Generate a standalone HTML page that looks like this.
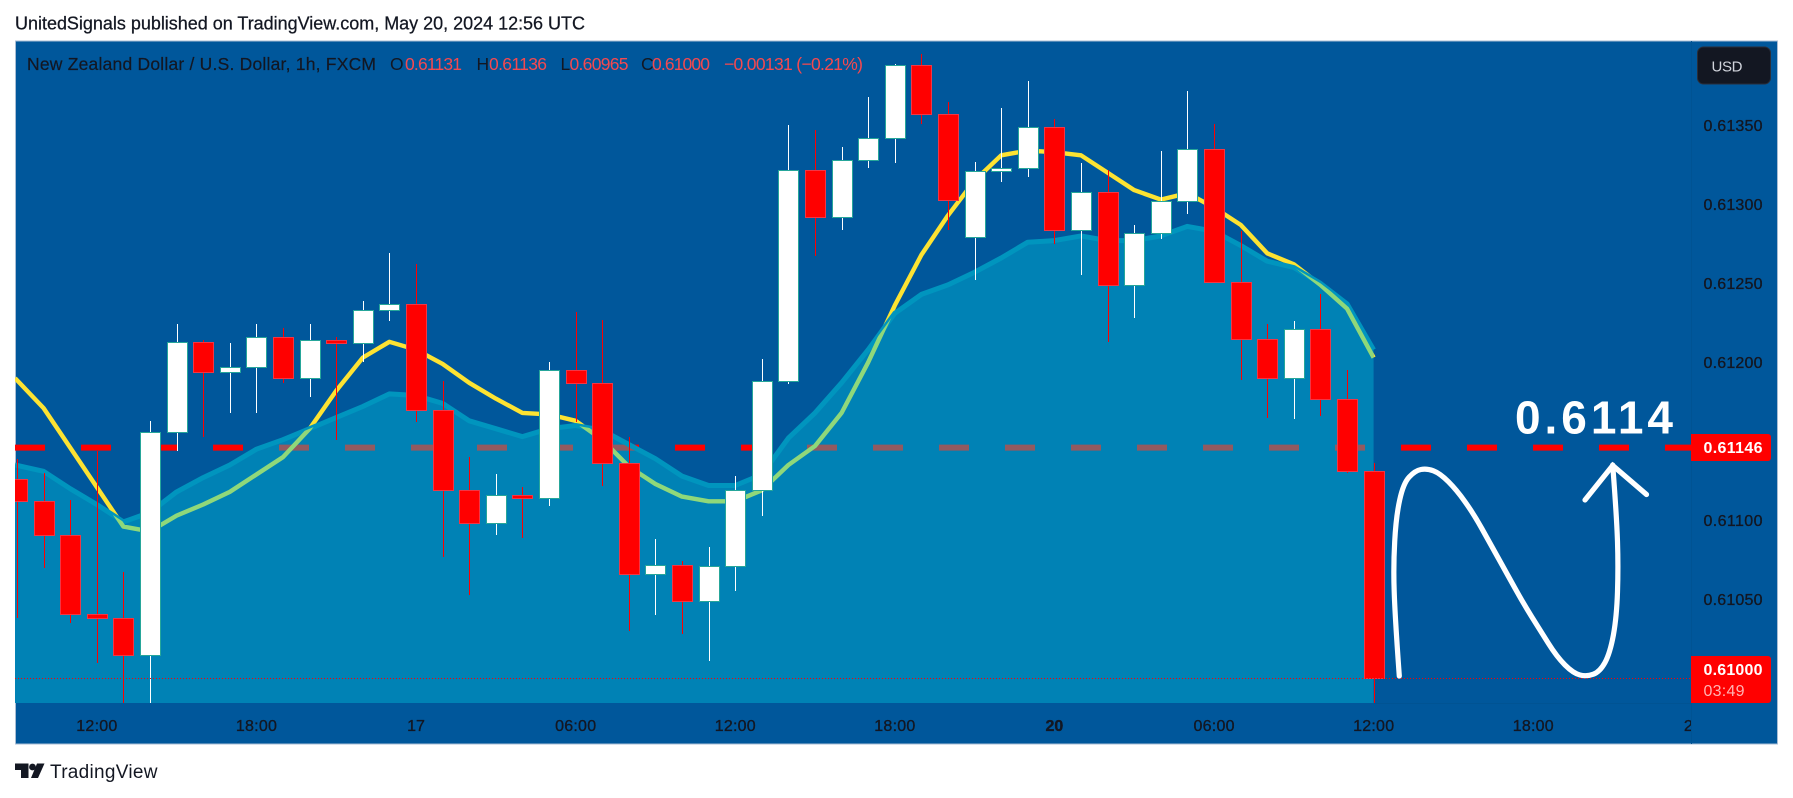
<!DOCTYPE html>
<html lang="en">
<head>
<meta charset="utf-8">
<title>NZD/USD 1h chart</title>
<style>
html,body{margin:0;padding:0;background:#fff;width:1793px;height:798px;overflow:hidden}
svg{display:block}
text{font-family:"Liberation Sans",sans-serif}
</style>
</head>
<body>
<svg id="chart" xmlns="http://www.w3.org/2000/svg" width="1793" height="798" viewBox="0 0 1793 798">
  <defs>
    <clipPath id="plot-clip"><rect x="15" y="41" width="1676" height="662"/></clipPath>
    <clipPath id="time-clip"><rect x="15" y="704" width="1676" height="40"/></clipPath>
    <clipPath id="area-clip"><path id="area-clip-path" d=""/></clipPath>
  </defs>

  <text x="15" y="29.5" font-size="18" fill="#131722" stroke="#131722" stroke-width="0.25" textLength="570">UnitedSignals published on TradingView.com, May 20, 2024 12:56 UTC</text>

  <rect x="15.5" y="41" width="1762" height="703" fill="#00579B" stroke="#a9bdd4" stroke-width="1"/>

  <g id="plot-layer" clip-path="url(#plot-clip)"></g>

  <line x1="1691.5" y1="41" x2="1691.5" y2="744" stroke="#005393" stroke-width="1"/>
  <line x1="1374" y1="703.5" x2="1691" y2="703.5" stroke="#005393" stroke-width="1"/>

  <g font-size="17.5">
    <text x="27" y="70" fill="#131722" stroke="#131722" stroke-width="0.2" textLength="349">New Zealand Dollar / U.S. Dollar, 1h, FXCM</text>
    <text x="390" y="70" fill="#131722">O</text>
    <text x="405" y="70" fill="#F5494F" textLength="57">0.61131</text>
    <text x="476.5" y="70" fill="#131722">H</text>
    <text x="489" y="70" fill="#F5494F" textLength="58">0.61136</text>
    <text x="560.5" y="70" fill="#131722">L</text>
    <text x="569.5" y="70" fill="#F5494F" textLength="59">0.60965</text>
    <text x="641" y="70" fill="#131722">C</text>
    <text x="652" y="70" fill="#F5494F" textLength="58">0.61000</text>
    <text x="724" y="70" fill="#F5494F" textLength="139">−0.00131 (−0.21%)</text>
  </g>

  <g>
    <rect x="1697.5" y="47" width="73" height="37" rx="6" fill="#131722" stroke="#2a2e39" stroke-width="1"/>
    <text x="1711.5" y="71.5" font-size="15" fill="#d1d4dc" textLength="31">USD</text>
  </g>

  <g id="price-axis"></g>
  <g id="time-axis" clip-path="url(#time-clip)"></g>

  <g>
    <path d="M1691 434H1768a3 3 0 0 1 3 3V458a3 3 0 0 1 -3 3H1691Z" fill="#FF0000"/>
    <text x="1703.5" y="453" font-size="16" font-weight="bold" fill="#fff" textLength="59">0.61146</text>
  </g>
  <g>
    <path d="M1691 656H1768a3 3 0 0 1 3 3V700a3 3 0 0 1 -3 3H1691Z" fill="#FF0000"/>
    <text x="1703.5" y="675" font-size="16" font-weight="bold" fill="#fff" textLength="59">0.61000</text>
    <text x="1703.5" y="696" font-size="16" fill="#ffb3b3" textLength="41">03:49</text>
  </g>

  <text x="1515" y="433.5" font-size="46" font-weight="bold" fill="#fff" textLength="158">0.6114</text>
  <path fill="none" stroke="#fff" stroke-width="5.2" stroke-linecap="round" stroke-linejoin="round"
    d="M1399.3 676 Q1395 616.7 1394.2 591.7 Q1393.3 566.7 1394.7 541.7 Q1396 516.7 1399.7 500 Q1403.3 483.3 1409.2 477 Q1415 470.7 1420.9 469.5 Q1426.7 468.3 1433.4 470.8 Q1440 473.3 1448.4 481.7 Q1456.7 490 1465 501.7 Q1473.3 513.3 1481.7 528.3 Q1490 543.3 1498.4 558.3 Q1506.7 573.3 1515 588.3 Q1523.3 603.3 1531.7 616.7 Q1540 630 1548.4 643.4 Q1556.7 656.7 1565 665 Q1573.3 673.3 1580 675 Q1586.7 676.7 1593.4 674.2 Q1600 671.7 1605 662.5 Q1610 653.3 1613.4 635 Q1616.7 616.7 1617.5 591.7 Q1618.3 566.7 1617.5 541.7 Q1616.7 516.7 1612.7 465"/>
  <path fill="none" stroke="#fff" stroke-width="5.2" stroke-linecap="round" stroke-linejoin="miter"
    d="M1585 500 L1612.7 465.5 L1646.5 494.5"/>

  <g>
    <path fill="#131722" d="M15 763.5H28.5V778H21V770H15Z"/>
    <circle cx="32.5" cy="767" r="3.4" fill="#131722"/>
    <path fill="#131722" d="M37 763.5H44.5L38 778H31Z"/>
    <text x="50" y="778" font-size="19" fill="#131722" textLength="107.5">TradingView</text>
  </g>
</svg>

<script>
const opens = [0.61126,0.61112,0.61091,0.61041,0.61038,0.61015,0.61156,0.61213,0.61194,0.61197,0.61216,0.61190,0.61214,0.61212,0.61233,0.61237,0.61170,0.61119,0.61098,0.61116,0.61114,0.61195,0.61187,0.61136,0.61066,0.61072,0.61049,0.61071,0.61119,0.61188,0.61322,0.61292,0.61328,0.61342,0.61388,0.61357,0.61279,0.61321,0.61323,0.61349,0.61284,0.61308,0.61249,0.61282,0.61302,0.61335,0.61251,0.61215,0.61190,0.61221,0.61177,0.61131];
const highs = [0.61139,0.61130,0.61113,0.61144,0.61067,0.61163,0.61224,0.61214,0.61212,0.61224,0.61222,0.61224,0.61216,0.61239,0.61269,0.61262,0.61188,0.61140,0.61129,0.61121,0.61200,0.61232,0.61227,0.61153,0.61088,0.61074,0.61083,0.61128,0.61202,0.61350,0.61347,0.61336,0.61368,0.61389,0.61395,0.61365,0.61327,0.61361,0.61378,0.61354,0.61326,0.61322,0.61287,0.61334,0.61372,0.61351,0.61283,0.61224,0.61226,0.61243,0.61195,0.61136];
const lows = [0.61038,0.61070,0.61035,0.61010,0.60980,0.60980,0.61144,0.61153,0.61168,0.61168,0.61187,0.61178,0.61151,0.61200,0.61226,0.61162,0.61077,0.61053,0.61091,0.61089,0.61109,0.61162,0.61122,0.61030,0.61040,0.61028,0.61011,0.61055,0.61103,0.61186,0.61267,0.61284,0.61323,0.61326,0.61351,0.61284,0.61252,0.61314,0.61317,0.61275,0.61255,0.61213,0.61228,0.61278,0.61294,0.61251,0.61189,0.61165,0.61164,0.61166,0.61130,0.60965];
const closes = [0.61112,0.61091,0.61041,0.61038,0.61015,0.61156,0.61213,0.61194,0.61197,0.61216,0.61190,0.61214,0.61212,0.61233,0.61237,0.61170,0.61119,0.61098,0.61116,0.61114,0.61195,0.61187,0.61136,0.61066,0.61072,0.61049,0.61071,0.61119,0.61188,0.61322,0.61292,0.61328,0.61342,0.61388,0.61357,0.61303,0.61321,0.61323,0.61349,0.61284,0.61308,0.61249,0.61282,0.61302,0.61335,0.61251,0.61215,0.61190,0.61221,0.61177,0.61131,0.61000];
const fastAverage = [0.61190,0.61171,0.61146,0.61121,0.61096,0.61093,0.61103,0.61110,0.61118,0.61129,0.61140,0.61158,0.61182,0.61203,0.61213,0.61208,0.61199,0.61187,0.61177,0.61168,0.61167,0.61163,0.61151,0.61134,0.61123,0.61115,0.61112,0.61112,0.61119,0.61135,0.61147,0.61168,0.61200,0.61236,0.61268,0.61293,0.61315,0.61331,0.61334,0.61333,0.61331,0.61320,0.61309,0.61303,0.61307,0.61298,0.61287,0.61269,0.61262,0.61249,0.61234,0.61203];
const slowAverage = [0.61135,0.61131,0.61120,0.61110,0.61099,0.61105,0.61118,0.61127,0.61135,0.61145,0.61151,0.61158,0.61165,0.61172,0.61180,0.61179,0.61174,0.61163,0.61158,0.61153,0.61158,0.61160,0.61157,0.61148,0.61139,0.61128,0.61122,0.61122,0.61129,0.61152,0.61168,0.61187,0.61208,0.61231,0.61243,0.61249,0.61257,0.61266,0.61276,0.61277,0.61280,0.61277,0.61277,0.61280,0.61286,0.61283,0.61274,0.61264,0.61260,0.61250,0.61237,0.61208];
const priceTicks = [0.6135,0.6130,0.6125,0.6120,0.6110,0.6105];
const timeTickBars = [3,9,15,21,27,33,39,45,51,57,63];
const timeTickLabels = ["12:00","18:00","17","06:00","12:00","18:00","20","06:00","12:00","18:00","21"];
const levelPrice = 0.61146;
const lastPrice = 0.61000;

const NS = "http://www.w3.org/2000/svg";
function xAt(i){ return 17 + 26.6 * i; }
function yAt(p){ return 678.3 - (p - 0.61) * 158000; }
function make(tag, attrs, parent){
  const el = document.createElementNS(NS, tag);
  for (const k in attrs) el.setAttribute(k, attrs[k]);
  parent.appendChild(el);
  return el;
}
function linePath(values){
  return values.map(function(v, i){
    const px = i === 0 ? 15 : xAt(i);
    return (i === 0 ? "M" : "L") + px.toFixed(1) + " " + yAt(v).toFixed(1);
  }).join(" ");
}

const plot = document.getElementById("plot-layer");
const endX = xAt(slowAverage.length - 1);
const areaD = linePath(slowAverage) + " L" + endX.toFixed(1) + " 703 L15 703 Z";
document.getElementById("area-clip-path").setAttribute("d", areaD);

const fastUpper = make("path", {d: linePath(fastAverage), fill: "none", stroke: "#FDE332", "stroke-width": 4.4, "stroke-linejoin": "round"}, plot);



const levelLine = make("line", {x1: 15, x2: 1691, y1: yAt(levelPrice), y2: yAt(levelPrice), stroke: "#FF0000", "stroke-width": 6, "stroke-dasharray": "30 36"}, plot);



const areaFill = make("path", {d: areaD, fill: "#0082B5"}, plot);



const levelMuted = make("line", {x1: 15, x2: 1691, y1: yAt(levelPrice), y2: yAt(levelPrice), stroke: "#925A60", "stroke-width": 6, "stroke-dasharray": "30 36", "clip-path": "url(#area-clip)"}, plot);



const areaBand = make("path", {d: linePath(slowAverage), fill: "none", stroke: "#0095BE", "stroke-width": 5, "stroke-linejoin": "round"}, plot);



const fastLower = make("path", {d: linePath(fastAverage), fill: "none", stroke: "#8FD87A", "stroke-width": 4.4, "stroke-linejoin": "round", "clip-path": "url(#area-clip)"}, plot);



opens.forEach(function(o, i){
  const c = closes[i];
  const up = c >= o;
  const cx = Math.round(xAt(i));
  const g = make("g", {"shape-rendering": "crispEdges"}, plot);
  
  
  const top = Math.round(yAt(highs[i]));
  const bottom = Math.round(yAt(lows[i]));
  const wick = make("rect", {x: cx, y: top, width: 1, height: Math.max(1, bottom - top), fill: up ? "#ffffff" : "#FF0000"}, g);
  
  
  const bTop = Math.round(yAt(Math.max(o, c)));
  const bBot = Math.round(yAt(Math.min(o, c)));
  const body = make("rect", {x: cx - 10 + 0.5, y: bTop + 0.5, width: 20, height: Math.max(2, bBot - bTop), fill: up ? "#ffffff" : "#FF0000", stroke: up ? "#26A69A" : "#F23645", "stroke-width": 1}, g);
  
  
});

const lastLine = make("line", {x1: 15, x2: 1691, y1: Math.round(yAt(lastPrice)) + 0.5, y2: Math.round(yAt(lastPrice)) + 0.5, stroke: "#FF0000", "stroke-width": 1, "stroke-dasharray": "1 2"}, plot);



const priceAxis = document.getElementById("price-axis");
priceTicks.forEach(function(p){
  const t = make("text", {x: 1703.5, y: (yAt(p) + 5.8).toFixed(1), "font-size": 16, fill: "#131722", stroke: "#131722", "stroke-width": 0.35, textLength: 59}, priceAxis);
  
  
  t.textContent = p.toFixed(5);
});

const timeAxis = document.getElementById("time-axis");
timeTickBars.forEach(function(b, k){
  const label = timeTickLabels[k];
  const isDay = label.length === 2;
  const t = make("text", {x: xAt(b).toFixed(1), y: 731, "font-size": 16, "text-anchor": "middle", fill: "#131722", stroke: "#131722", "stroke-width": 0.35, "font-weight": label === "20" ? "bold" : "normal"}, timeAxis);
  if (!isDay) t.setAttribute("textLength", 41);
  
  
  t.textContent = label;
});
</script>
</body>
</html>
